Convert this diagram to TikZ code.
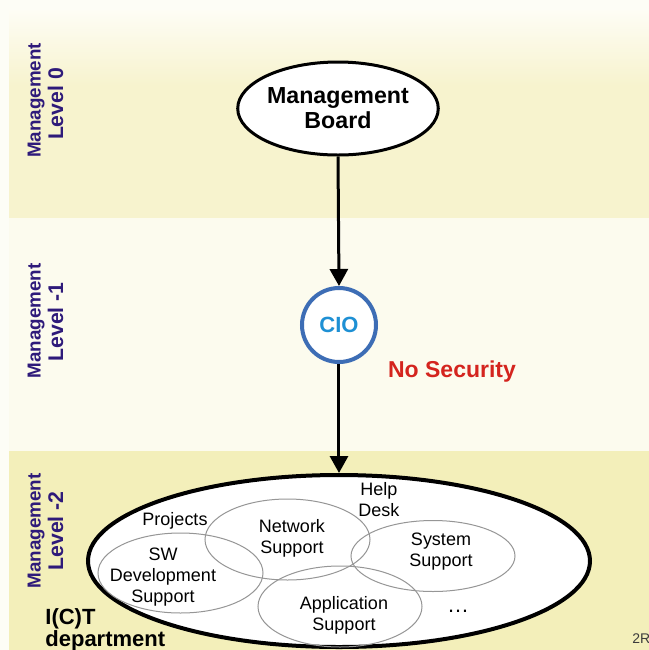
\documentclass[tikz,border=0pt]{standalone}
\usepackage{fontspec}
\setmainfont{Liberation Sans}
\usetikzlibrary{shapes.geometric,arrows.meta}
\definecolor{pagebg}{RGB}{253,253,246}
\definecolor{bandtop}{RGB}{247,243,206}
\definecolor{bandtoplight}{RGB}{254,253,245}
\definecolor{bandmid}{RGB}{252,251,238}
\definecolor{bandbot}{RGB}{243,239,186}
\definecolor{navy}{RGB}{46,26,122}
\definecolor{cioblue}{RGB}{61,109,181}
\definecolor{ciotext}{RGB}{30,144,212}
\definecolor{nored}{RGB}{212,36,30}
\definecolor{ringgray}{RGB}{150,150,150}
\definecolor{tagtext}{RGB}{60,60,60}
\begin{document}
\begin{tikzpicture}[x=0.5pt,y=-0.5pt,
  lvlsmall/.style={rotate=90,anchor=base,text=navy,inner sep=0pt,
    font=\fontsize{9.4}{11}\selectfont\bfseries},
  lvlbig/.style={rotate=90,anchor=base,text=navy,inner sep=0pt,
    font=\fontsize{10.6}{12}\selectfont\bfseries},
  board/.style={ellipse,draw=black,line width=1.5pt,fill=white,inner sep=0pt,
    align=center,font=\fontsize{11.6}{12.5}\selectfont\bfseries},
  ciocircle/.style={circle,draw=cioblue,line width=2pt,fill=white,inner sep=0pt,
    minimum size=37pt,text=ciotext,font=\fontsize{11}{13}\selectfont\bfseries},
  dept/.style={ellipse,draw=black,line width=2pt,fill=white,inner sep=0pt},
  ring/.style={ellipse,draw=ringgray,line width=0.5pt,inner sep=0pt},
  unitlabel/.style={align=center,inner sep=0pt,font=\fontsize{9}{10.5}\selectfont},
  bigarrow/.style={line width=1.5pt,-{Triangle[length=8.5pt,width=9pt]}},
  corner/.style={anchor=base west,inner sep=0pt,font=\fontsize{11}{12}\selectfont\bfseries}
]
\useasboundingbox (0,0) rectangle (649,650);
\clip (0,0) rectangle (649,650);
% background bands
\fill[pagebg] (0,0) rectangle (649,650);
\shade[top color=bandtoplight,bottom color=bandtop] (9,10) rectangle (649,85);
\fill[bandtop] (9,85) rectangle (649,218);
\fill[bandmid] (9,218) rectangle (649,451);
\fill[bandbot] (9,451) rectangle (649,650);

% level labels
\node[lvlsmall] (m0a) at (40.5,100.5) {Management};
\node[lvlbig]   (m0b) at (63,104) {Level 0};
\node[lvlsmall] (m1a) at (40.5,321) {Management};
\node[lvlbig]   (m1b) at (63,322) {Level -1};
\node[lvlsmall] (m2a) at (40.5,531) {Management};
\node[lvlbig]   (m2b) at (63,531) {Level -2};

% department ellipse
\node[dept,minimum width=251pt,minimum height=86pt] (ict) at (339,561) {};
\node[ring,minimum width=82.5pt,minimum height=40pt]   (sw)  at (180.5,573) {};
\node[ring,minimum width=82.5pt,minimum height=40.5pt] (net) at (287.5,539.5) {};
\node[ring,minimum width=82pt,minimum height=35.5pt]   (sys) at (433,556) {};
\node[ring,minimum width=82pt,minimum height=40.5pt]   (app) at (340,606.5) {};

\node[unitlabel] (proj) at (175,521) {Projects};
\node[unitlabel] (help) at (379,500) {Help\\Desk};
\node[unitlabel] (swt)  at (163,577) {SW\\Development\\Support};
\node[unitlabel] (nett) at (292,538) {Network\\Support};
\node[unitlabel] (syst) at (441,552) {System\\Support};
\node[unitlabel] (appt) at (344,615) {Application\\Support};
\node[inner sep=0pt,font=\fontsize{11}{12}\selectfont] (more) at (458,611) {\dots};

\node[corner] (ictl1) at (45,624) {I(C)T};
\node[corner] (ictl2) at (45,646) {department};
\node[anchor=base west,inner sep=0pt,text=tagtext,font=\fontsize{7}{8}\selectfont] (tag) at (632,643) {2R};

% top nodes
\node[board,minimum width=92pt,minimum height=46.5pt] (mb) at (338,108.5) {Management\\Board};
\node[ciocircle] (cio) at (339,325) {CIO};
\node[text=nored,inner sep=0pt,font=\fontsize{11.5}{13}\selectfont\bfseries] (nosec) at (452,372) {No Security};

\draw[bigarrow] (mb.south) -- (cio.north);
\draw[bigarrow] (cio.south) -- (ict.north);
\end{tikzpicture}
\end{document}
